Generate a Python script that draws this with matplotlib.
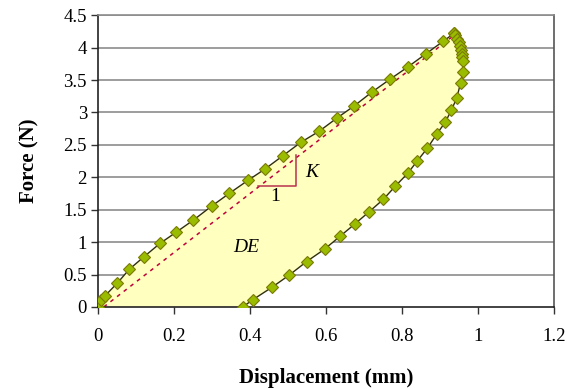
import matplotlib.pyplot as plt

plt.rcParams['font.family'] = ['Liberation Serif', 'DejaVu Serif']

# loading branch (displacement mm, force N)
load_x = [0, 0.008, 0.018, 0.051, 0.082, 0.121, 0.163, 0.205, 0.251, 0.299, 0.345, 0.394,
          0.44, 0.486, 0.534, 0.582, 0.628, 0.674, 0.720, 0.768, 0.815, 0.862, 0.909, 0.937]
load_y = [0, 0.10, 0.17, 0.37, 0.58, 0.775, 0.98, 1.15, 1.34, 1.555, 1.75, 1.95,
          2.13, 2.33, 2.54, 2.71, 2.91, 3.10, 3.31, 3.51, 3.70, 3.90, 4.10, 4.22]

# unloading branch
unload_x = [0.937, 0.94, 0.946, 0.95, 0.953, 0.955, 0.957, 0.958, 0.96, 0.96, 0.954, 0.944,
            0.93, 0.914, 0.892, 0.867, 0.84, 0.815, 0.782, 0.751, 0.713, 0.676, 0.637,
            0.596, 0.549, 0.503, 0.457, 0.407, 0.381]
unload_y = [4.22, 4.19, 4.14, 4.08, 4.02, 3.96, 3.90, 3.85, 3.80, 3.63, 3.45, 3.22,
            3.035, 2.85, 2.67, 2.45, 2.25, 2.06, 1.86, 1.66, 1.465, 1.28, 1.09,
            0.89, 0.70, 0.49, 0.30, 0.11, 0.0]

# stiffness line and slope triangle
k_x = [0.015, 0.935]
k_y = [0.0, 4.18]
tri_x = [0.422, 0.521, 0.521]
tri_y = [1.87, 1.87, 2.34]

xticks = [0, 0.2, 0.4, 0.6, 0.8, 1, 1.2]
xtick_labels = ['0', '0.2', '0.4', '0.6', '0.8', '1', '1.2']
yticks = [0, 0.5, 1, 1.5, 2, 2.5, 3, 3.5, 4, 4.5]
ytick_labels = ['0', '0.5', '1', '1.5', '2', '2.5', '3', '3.5', '4', '4.5']

fig = plt.figure(figsize=(5.67, 3.89), dpi=100)
ax = fig.add_axes([0.173, 0.211, 0.804, 0.75])

# dissipated energy area
ax.fill(load_x + unload_x, load_y + unload_y, color='#FFFFC0', lw=0, zorder=1)

for y in yticks[1:]:
    ax.axhline(y, color='#8c8c8c', lw=1.2, zorder=0.5)

ax.plot(k_x, k_y, color='#C0003C', lw=1.1, ls=(0, (2.5, 3)), zorder=2)
ax.plot(tri_x, tri_y, color='#B8324E', lw=1.1, zorder=2)

mk = dict(color='#2f2f10', lw=1.0, marker='D', ms=6, mfc='#99BB00', mec='#7a7a00', mew=0.8, zorder=3)
ax.plot(load_x, load_y, **mk)
ax.plot(unload_x, unload_y, **mk)

ax.text(0.563, 2.08, 'K', fontsize=14, style='italic', ha='center', va='center')
ax.text(0.466, 1.70, '1', fontsize=14, ha='center', va='center')
ax.text(0.39, 0.92, 'DE', fontsize=14, style='italic', ha='center', va='center')

ax.set_xlim(0, 1.2)
ax.set_ylim(0, 4.5)
ax.set_xticks(xticks)
ax.set_xticklabels(xtick_labels)
ax.set_yticks(yticks)
ax.set_yticklabels(ytick_labels)
ax.tick_params(labelsize=13.5, direction='out', length=5, width=1, color='#333333')
ax.tick_params(axis='x', pad=10)
ax.tick_params(axis='y', pad=3)

ax.spines['left'].set_color('#222222')
ax.spines['bottom'].set_color('#222222')
ax.spines['right'].set_color('#555555')
ax.spines['top'].set_color('#8c8c8c')
for s in ax.spines.values():
    s.set_linewidth(1.2)

ax.set_xlabel('Displacement (mm)', fontsize=15, fontweight='bold', labelpad=17)
ax.set_ylabel('Force (N)', fontsize=15, fontweight='bold', labelpad=17)

fig.savefig('out.png', dpi=100)
